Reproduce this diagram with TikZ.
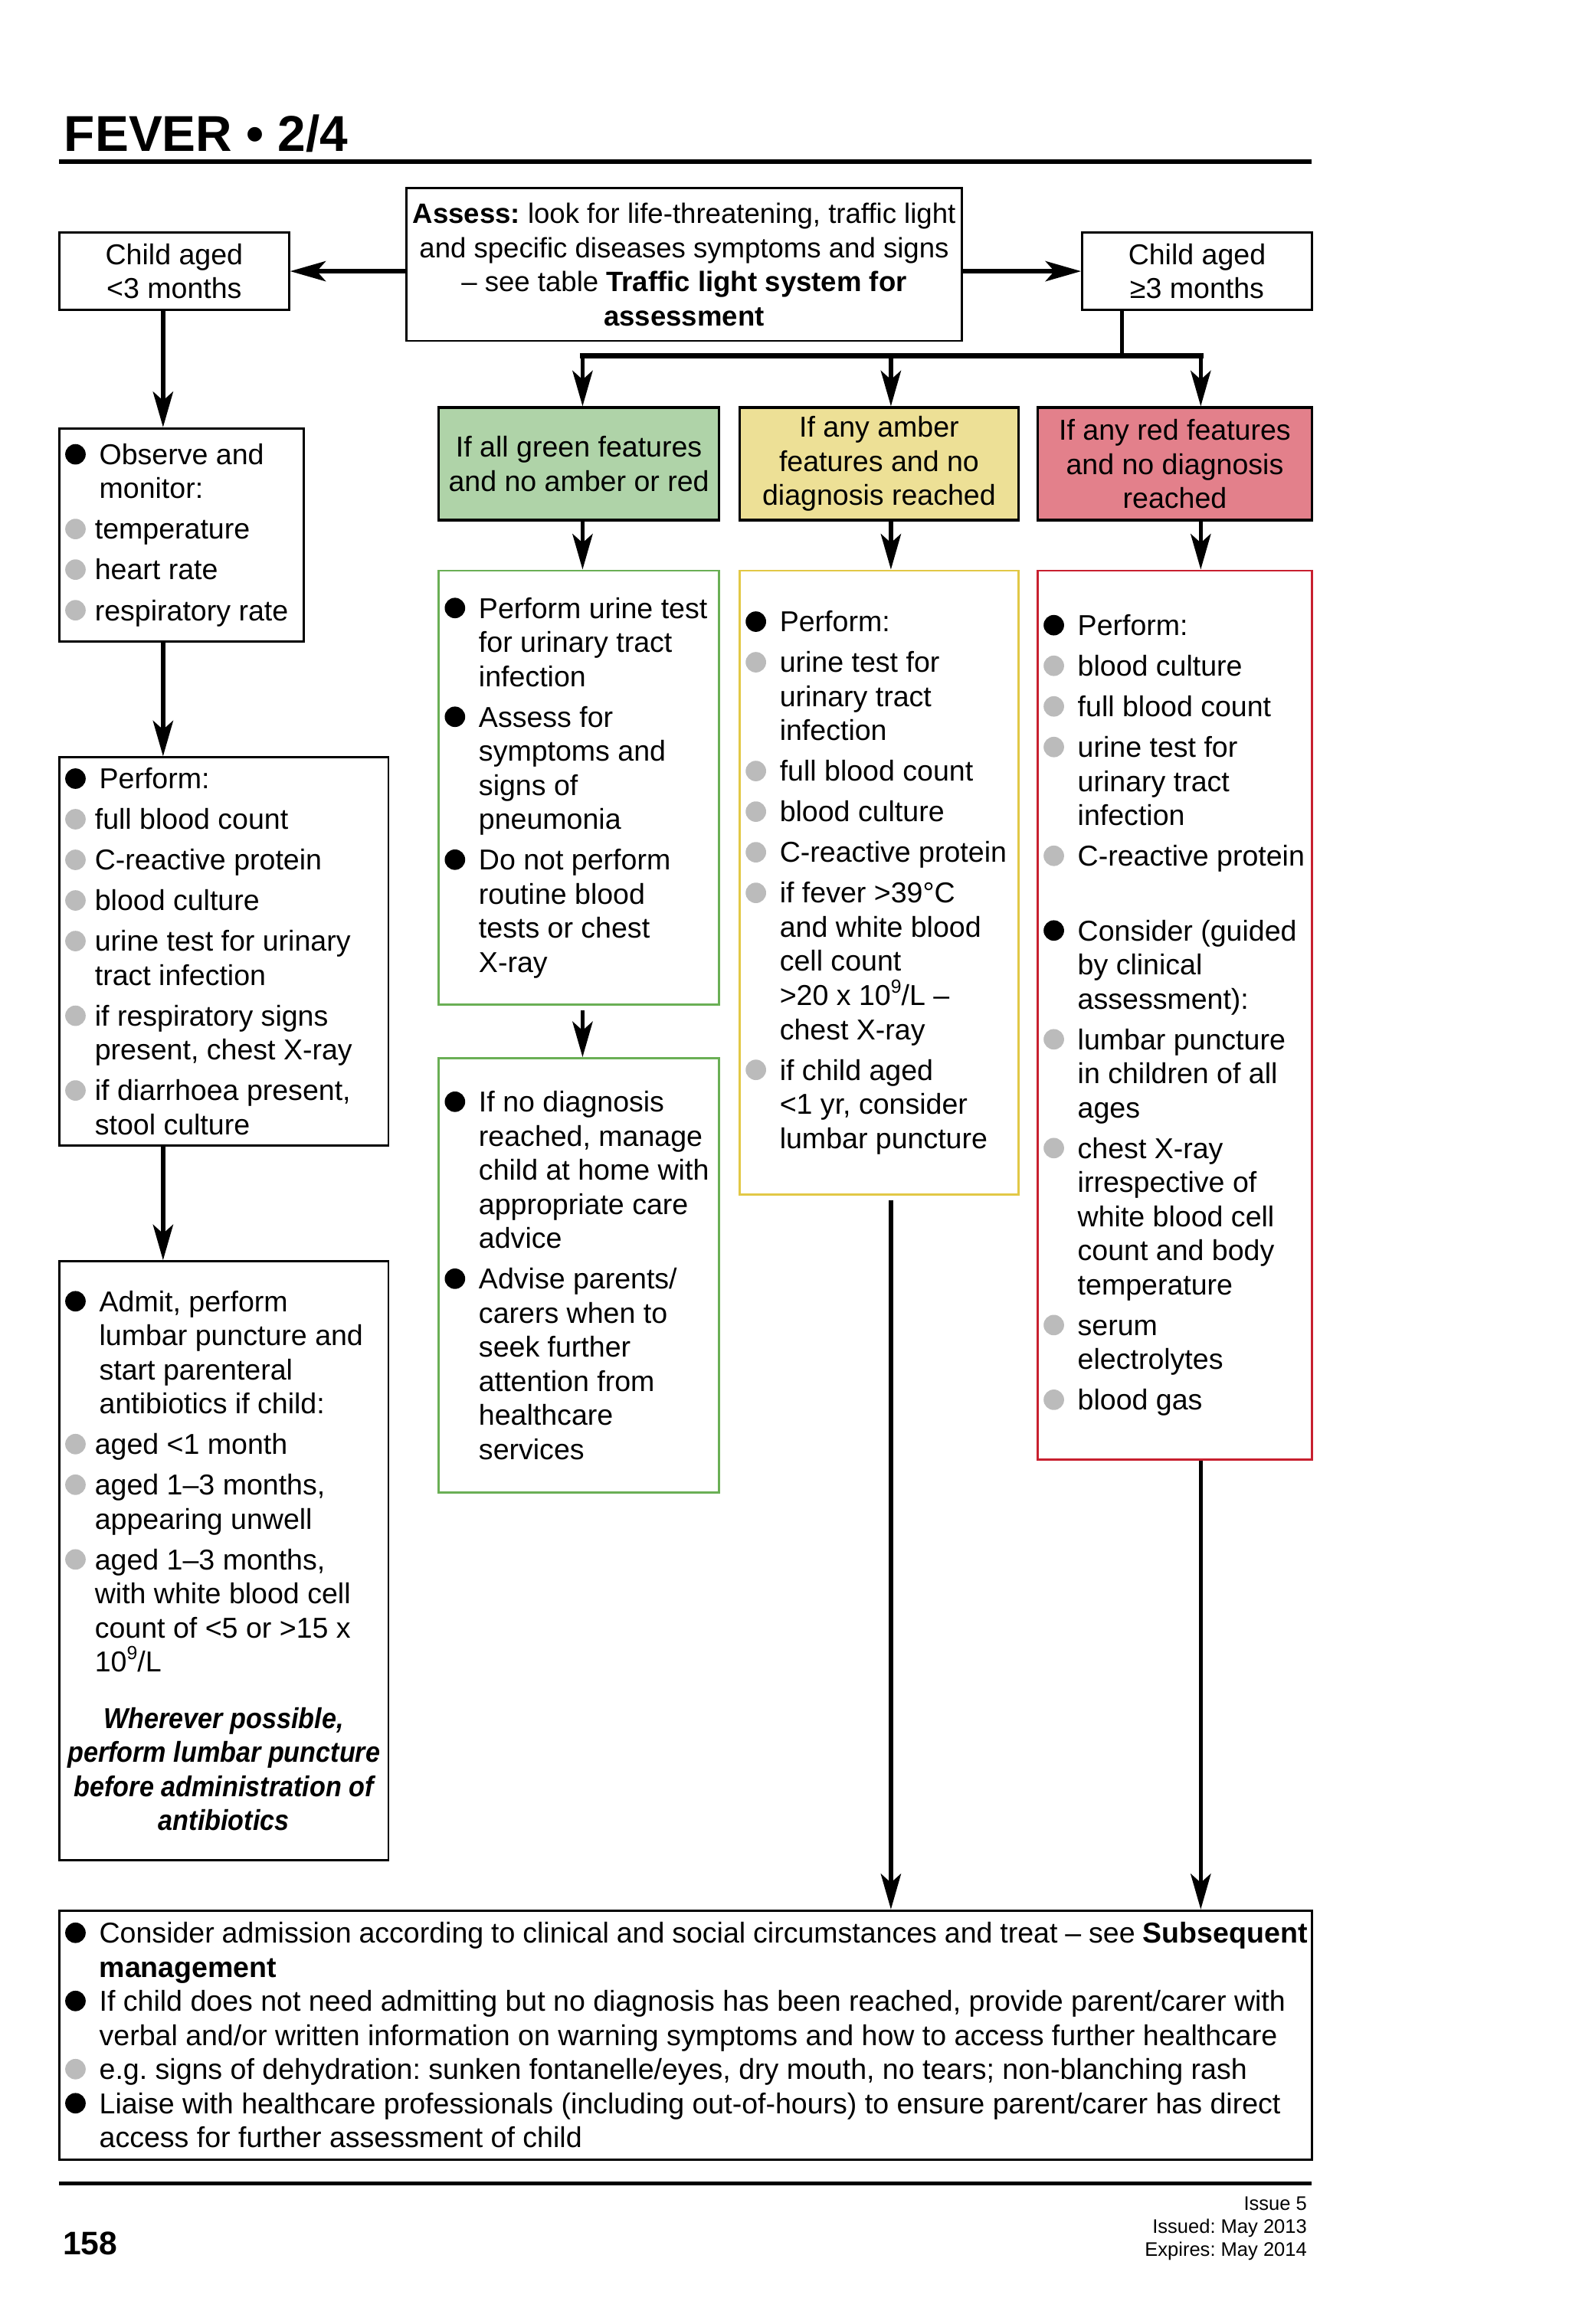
\documentclass[tikz,border=0pt]{standalone}
\usepackage{fontspec}
\setmainfont{Liberation Sans}
\newfontfamily\notefam{Liberation Sans}[FakeStretch=0.91]
\usetikzlibrary{arrows.meta}
\frenchspacing

\definecolor{greenfill}{HTML}{AFD3A8}
\definecolor{amberfill}{HTML}{EDE096}
\definecolor{redfill}{HTML}{E3808B}
\definecolor{greenline}{HTML}{6AAF55}
\definecolor{amberline}{HTML}{E2C846}
\definecolor{redline}{HTML}{C8202F}
\definecolor{dotgrey}{HTML}{BBBBBB}

% bullets for the lists
\newlength{\bind}\setlength{\bind}{12pt}
\newlength{\gind}\setlength{\gind}{12pt}
\newcommand{\dotmark}[1]{\tikz[baseline=0pt]\fill[#1] (3.45pt,3.45pt) circle[radius=3.45pt];}
\newcommand{\blk}{\par\hangindent=\bind\hangafter=1\noindent\makebox[\bind][l]{\hspace{0.5pt}\dotmark{black}}\ignorespaces}
\newcommand{\gry}{\par\hangindent=\gind\hangafter=1\noindent\makebox[\gind][l]{\hspace{0.5pt}\dotmark{dotgrey}}\ignorespaces}
\newcommand{\lst}[3][2.2pt]{\parbox{#2}{\fontsize{9.7}{11.5}\selectfont\setlength{\parskip}{#1}\rightskip=0pt plus 1fil\relax #3}}
\newcommand{\supnine}{\raisebox{0.42em}{\fontsize{6.4}{6.4}\selectfont 9}}

\begin{document}
\begin{tikzpicture}[x=0.5pt, y=-0.5pt,
    box/.style={draw, line width=0.75pt, inner xsep=1.5pt, inner ysep=0pt},
    plain/.style={box, align=center, font=\fontsize{9.7}{11.5}\selectfont},
    head/.style={plain, line width=0.9pt},
    arr/.style={line width=1.4pt, -{Stealth[length=12pt, width=6.8pt, inset=3pt]}},
    busline/.style={line width=1.8pt, line cap=rect},
    foot/.style={anchor=base east, inner sep=0pt, font=\fontsize{6.6}{7.8}\selectfont},
  ]
  \useasboundingbox (0,0) rectangle (1058,1568);

  % page header
  \node[anchor=base west, inner sep=0pt, font=\fontsize{17}{20}\selectfont\bfseries] (title) at (43,102) {FEVER • 2/4};
  \draw[line width=1.4pt] (40,109) -- (885,109);

  % assessment and age split
  \node[plain, font=\fontsize{9.45}{11.5}\selectfont, minimum width=187.5pt, minimum height=51.5pt] (assess) at (461.5,178.5)
    {\textbf{Assess:} look for life-threatening, traffic light\\
     and specific diseases symptoms and signs\\
     -- see table \textbf{Traffic light system for}\\
     \textbf{assessment}};
  \node[plain, minimum width=77.5pt, minimum height=26pt] (young) at (117.5,183) {Child aged\\<3 months};
  \node[plain, minimum width=77.5pt, minimum height=26pt] (older) at (807.5,183) {Child aged\\≥3 months};

  % traffic light headers
  \node[head, fill=greenfill, minimum width=94.5pt, minimum height=38pt] (greenH) at (390.5,313)
    {If all green features\\and no amber or red};
  \node[head, fill=amberfill, minimum width=94pt, minimum height=38pt] (amberH) at (593,313)
    {If any amber\\features and no\\diagnosis reached};
  \node[head, fill=redfill, minimum width=92.5pt, minimum height=38pt] (redH) at (792.5,313)
    {If any red features\\and no diagnosis\\reached};

  % green column
  \node[box, draw=greenline, minimum width=94.5pt, minimum height=146.5pt] (greenA) at (390.5,531.5)
    {\lst{91.5pt}{\blk Perform urine test\\for urinary tract\\infection
      \blk Assess for\\symptoms and\\signs of\\pneumonia
      \blk Do not perform\\routine blood\\tests or chest\\X-ray}};
  \node[box, draw=greenline, minimum width=94.5pt, minimum height=146.5pt] (greenB) at (390.5,860.5)
    {\lst{91.5pt}{\blk If no diagnosis\\reached, manage\\child at home with\\appropriate care\\advice
      \blk Advise parents/\\carers when to\\seek further\\attention from\\healthcare\\services}};

  % amber column
  \node[box, draw=amberline, minimum width=94pt, minimum height=210.5pt] (amberB) at (593,595.5)
    {\lst{91pt}{\blk Perform:
      \gry urine test for\\urinary tract\\infection
      \gry full blood count
      \gry blood culture
      \gry C-reactive protein
      \gry if fever >39°C\\and white blood\\cell count\\>20 x 10\supnine/L --\\chest X-ray
      \gry if child aged\\<1 yr, consider\\lumbar puncture}};

  % red column
  \node[box, draw=redline, minimum width=92.5pt, minimum height=300pt] (redB) at (792.5,685)
    {\lst{89.5pt}{\blk Perform:
      \gry blood culture
      \gry full blood count
      \gry urine test for\\urinary tract\\infection
      \gry C-reactive protein
      \par\vspace{11.5pt}
      \blk Consider (guided\\by clinical\\assessment):
      \gry lumbar puncture\\in children of all\\ages
      \gry chest X-ray\\irrespective of\\white blood cell\\count and body\\temperature
      \gry serum\\electrolytes
      \gry blood gas}};

  % under 3 months
  \node[box, minimum width=82.5pt, minimum height=72pt] (observe) at (122.5,361)
    {\lst{79.5pt}{\setlength{\gind}{10.5pt}\blk Observe and\\monitor:
      \gry temperature
      \gry heart rate
      \gry respiratory rate}};
  \node[box, minimum width=111pt, minimum height=131pt] (perform) at (151,642)
    {\lst{108pt}{\setlength{\gind}{10.5pt}\blk Perform:
      \gry full blood count
      \gry C-reactive protein
      \gry blood culture
      \gry urine test for urinary\\tract infection
      \gry if respiratory signs\\present, chest X-ray
      \gry if diarrhoea present,\\stool culture}};
  \node[box, minimum width=111pt, minimum height=202pt] (admit) at (151,1053)
    {\lst{108pt}{\setlength{\gind}{10.5pt}\blk Admit, perform\\lumbar puncture and\\start parenteral\\antibiotics if child:
      \gry aged <1 month
      \gry aged 1--3 months,\\appearing unwell
      \gry aged 1--3 months,\\with white blood cell\\count of <5 or >15 x\\10\supnine/L
      \par\vspace{7.5pt}
      {\setlength{\parskip}{0pt}\centering\notefam\bfseries\itshape
       Wherever possible,\\perform lumbar puncture\\before administration of\\antibiotics\par}}};

  % common outcome
  \node[box, minimum width=422.5pt, minimum height=84pt] (final) at (462.5,1373)
    {\lst[0pt]{419.5pt}{\blk Consider admission according to clinical and social circumstances and treat -- see \textbf{Subsequent}\\\textbf{management}
      \blk If child does not need admitting but no diagnosis has been reached, provide parent/carer with\\verbal and/or written information on warning symptoms and how to access further healthcare
      \gry e.g. signs of dehydration: sunken fontanelle/eyes, dry mouth, no tears; non-blanching rash
      \blk Liaise with healthcare professionals (including out-of-hours) to ensure parent/carer has direct\\access for further assessment of child}};

  % connectors
  \coordinate (cl) at (110,0);
  \coordinate (bus) at (757,240);
  \coordinate (cg) at (393,240);
  \coordinate (ca) at (601,240);
  \coordinate (cr) at (810,240);

  \draw[arr] (assess.west |- young.east) -- (young.east);
  \draw[arr] (assess.east |- older.west) -- (older.west);
  \draw[line width=1.4pt] (older.south -| bus) -- (bus);
  \draw[busline] (cg) -- (cr);
  \draw[arr] (cg) -- (cg |- greenH.north);
  \draw[arr] (ca) -- (ca |- amberH.north);
  \draw[arr] (cr) -- (cr |- redH.north);

  \draw[arr] (greenH.south -| cg) -- (greenA.north -| cg);
  \draw[arr, shorten <=1.5pt] (greenA.south -| cg) -- (greenB.north -| cg);
  \draw[arr] (amberH.south -| ca) -- (amberB.north -| ca);
  \draw[arr, shorten <=1.5pt] (amberB.south -| ca) -- (final.north -| ca);
  \draw[arr] (redH.south -| cr) -- (redB.north -| cr);
  \draw[arr] (redB.south -| cr) -- (final.north -| cr);

  \draw[arr] (young.south -| cl) -- (observe.north -| cl);
  \draw[arr] (observe.south -| cl) -- (perform.north -| cl);
  \draw[arr] (perform.south -| cl) -- (admit.north -| cl);

  % page footer
  \draw[line width=1.4pt] (40,1473) -- (885,1473);
  \node[anchor=base west, inner sep=0pt, font=\fontsize{11}{13}\selectfont\bfseries] (page) at (42,1521) {158};
  \node[foot] (issue) at (882,1491) {Issue 5};
  \node[foot] (issued) at (882,1506.5) {Issued: May 2013};
  \node[foot] (expires) at (882,1522) {Expires: May 2014};
\end{tikzpicture}
\end{document}
